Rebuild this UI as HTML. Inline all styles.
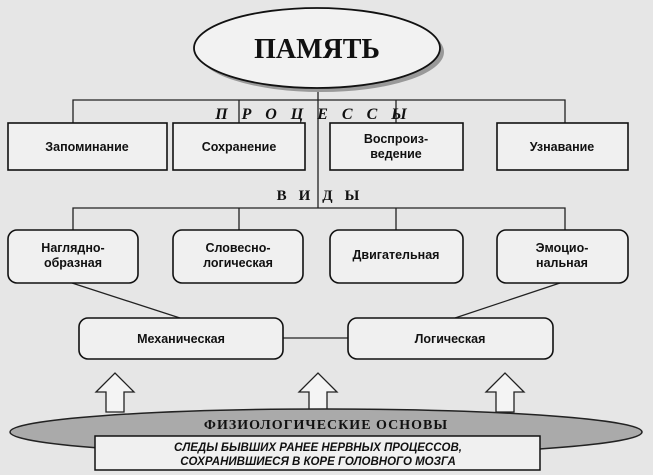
<!DOCTYPE html>
<html><head><meta charset="utf-8"><style>
body{margin:0;background:#e6e6e6;}
svg{display:block}
.s{font-family:"Liberation Sans",sans-serif;font-weight:bold;font-size:12.5px;fill:#111;text-anchor:middle}
</style></head><body>
<svg width="653" height="475" viewBox="0 0 653 475">
<rect width="653" height="475" fill="#e6e6e6"/>
<g stroke="#222" stroke-width="1.3" fill="none">
<line x1="318" y1="88" x2="318" y2="208"/>
<polyline points="73,123 73,100 565,100 565,123"/>
<line x1="239" y1="100" x2="239" y2="123"/>
<line x1="396" y1="100" x2="396" y2="123"/>
<polyline points="73,230 73,208 565,208 565,230"/>
<line x1="239" y1="208" x2="239" y2="230"/>
<line x1="396" y1="208" x2="396" y2="230"/>
<line x1="72" y1="283" x2="180" y2="318"/>
<line x1="560" y1="283" x2="455" y2="318"/>
<line x1="283" y1="338" x2="348" y2="338"/>
</g>
<ellipse cx="321" cy="52" rx="123" ry="40" fill="#999"/>
<ellipse cx="317" cy="48" rx="123" ry="40" fill="#f2f2f2" stroke="#111" stroke-width="1.8"/>
<text x="317" y="58" style="font-family:'Liberation Serif',serif;font-weight:bold;font-size:28px;text-anchor:middle;fill:#111">ПАМЯТЬ</text>
<text x="318" y="119" style="font-family:'Liberation Serif',serif;font-weight:bold;font-style:italic;font-size:16px;text-anchor:middle;fill:#111;letter-spacing:14px">ПРОЦЕССЫ</text>
<text x="324" y="200" style="font-family:'Liberation Serif',serif;font-weight:bold;font-size:15px;text-anchor:middle;fill:#111;letter-spacing:12px">ВИДЫ</text>
<g fill="#f0f0f0" stroke="#111" stroke-width="1.6">
<rect x="8" y="123" width="159" height="47"/>
<rect x="173" y="123" width="132" height="47"/>
<rect x="330" y="123" width="133" height="47"/>
<rect x="497" y="123" width="131" height="47"/>
<rect x="8" y="230" width="130" height="53" rx="9"/>
<rect x="173" y="230" width="130" height="53" rx="9"/>
<rect x="330" y="230" width="133" height="53" rx="9"/>
<rect x="497" y="230" width="131" height="53" rx="9"/>
<rect x="79" y="318" width="204" height="41" rx="9"/>
<rect x="348" y="318" width="205" height="41" rx="9"/>
</g>
<text class="s" x="87" y="151">Запоминание</text>
<text class="s" x="239" y="151">Сохранение</text>
<text class="s" x="396" y="143">Воспроиз-</text>
<text class="s" x="396" y="158">ведение</text>
<text class="s" x="562" y="151">Узнавание</text>
<text class="s" x="73" y="252">Наглядно-</text>
<text class="s" x="73" y="267">образная</text>
<text class="s" x="238" y="252">Словесно-</text>
<text class="s" x="238" y="267">логическая</text>
<text class="s" x="396" y="259">Двигательная</text>
<text class="s" x="562" y="252">Эмоцио-</text>
<text class="s" x="562" y="267">нальная</text>
<text class="s" x="181" y="343">Механическая</text>
<text class="s" x="450" y="343">Логическая</text>
<g fill="#f4f4f4" stroke="#222" stroke-width="1.3">
<polygon points="106,412 106,392 96,392 115,373 134,392 124,392 124,412"/>
<polygon points="309,412 309,392 299,392 318,373 337,392 327,392 327,412"/>
<polygon points="496,412 496,392 486,392 505,373 524,392 514,392 514,412"/>
</g>
<ellipse cx="326" cy="432" rx="316" ry="23" fill="#aaa" stroke="#222" stroke-width="1.5"/>
<text x="326" y="429" style="font-family:'Liberation Serif',serif;font-weight:bold;font-size:14px;text-anchor:middle;fill:#111;letter-spacing:1px">ФИЗИОЛОГИЧЕСКИЕ ОСНОВЫ</text>
<rect x="95" y="436" width="445" height="34" fill="#f0f0f0" stroke="#111" stroke-width="1.5"/>
<text x="318" y="451" style="font-family:'Liberation Sans',sans-serif;font-weight:bold;font-style:italic;font-size:11.5px;text-anchor:middle;fill:#111">СЛЕДЫ БЫВШИХ РАНЕЕ НЕРВНЫХ ПРОЦЕССОВ,</text>
<text x="318" y="465" style="font-family:'Liberation Sans',sans-serif;font-weight:bold;font-style:italic;font-size:11.5px;text-anchor:middle;fill:#111">СОХРАНИВШИЕСЯ В КОРЕ ГОЛОВНОГО МОЗГА</text>
</svg>
</body></html>
